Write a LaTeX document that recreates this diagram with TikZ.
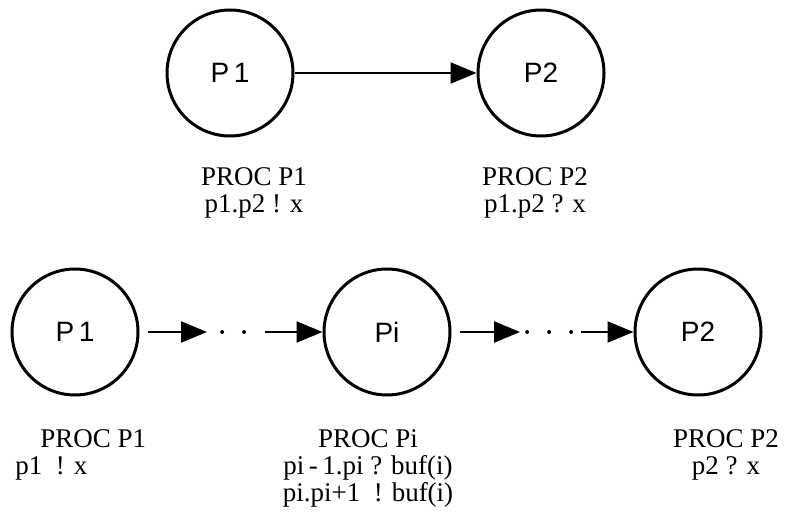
\documentclass[tikz,border=0pt]{standalone}
\usepackage{fontspec}
\setmainfont{Liberation Serif}
\newfontfamily\procfont{Liberation Sans}
\usetikzlibrary{positioning,arrows.meta}

\begin{document}
\begin{tikzpicture}[x=0.5pt,y=0.5pt,
    proc/.style={draw,circle,line width=1.5pt,minimum size=63pt,inner sep=0pt,
      font=\procfont\fontsize{14}{16}\selectfont},
    chan/.style={line width=1.1pt,-{Triangle[length=13pt,width=10.5pt]}},
    gap/.style={line width=1.8pt,dash pattern=on 0.1pt off 10.9pt,line cap=round},
    code/.style={inner sep=0pt,font=\fontsize{13.5}{13.5}\selectfont}]

        \useasboundingbox (0,0) rectangle (809,521);

        % One channel
        \node[proc] (a1) at (230,448) {P\,1};
        \node[proc] (a2) at (541,448) {P2};
        \draw[chan] (a1) -- (a2);

        \node[code,align=center] (la1) at (254,328) {PROC P1\\p1.p2 ! x};
        \node[code,align=center] (la2) at (535,328) {PROC P2\\p1.p2 ? x};

        % Pipeline
        \node[proc] (b1) at (75,189) {P\,1};
        \node[proc] (bi) at (387,189) {Pi};
        \node[proc] (b2) at (698,189) {P2};

        \coordinate (t1) at (207,189);
        \coordinate (d1) at (222,189);
        \coordinate (e1) at (252,189);
        \coordinate (s1) at (265,189);
        \coordinate (t2) at (520,189);
        \coordinate (d2) at (527,189);
        \coordinate (e2) at (575,189);
        \coordinate (s2) at (581,189);

        \draw[chan,shorten <=4pt] (b1) -- (t1);
        \draw[gap] (d1) -- (e1);
        \draw[chan] (s1) -- (bi);
        \draw[chan,shorten <=4pt] (bi) -- (t2);
        \draw[gap] (d2) -- (e2);
        \draw[chan] (s2) -- (b2);

        \node[code,align=left,anchor=north west] (lb1) at (15,92) {\hspace*{12.5pt}PROC P1\\p1\ \ ! x};
        \node[code,align=center,anchor=north] (lbi) at (368,92) {PROC Pi\\pi\,-\,1.pi ? buf(i)\\pi.pi+1\ \ ! buf(i)};
        \node[code,align=center,anchor=north] (lb2) at (726,92) {PROC P2\\p2 ? x};

\end{tikzpicture}
\end{document}
